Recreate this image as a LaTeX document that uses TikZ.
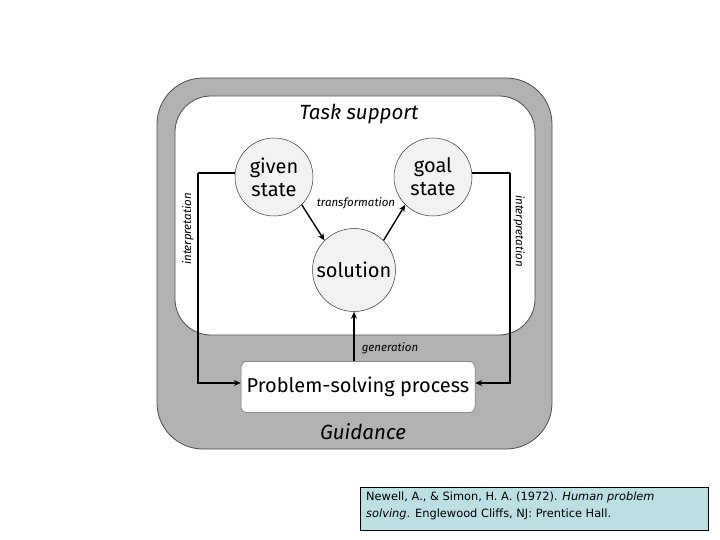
\documentclass[tikz,border=0pt]{standalone}
\usepackage{fontspec}
\setmainfont{DejaVu Sans}
\newfontfamily\comic{Fira Sans}
\usetikzlibrary{arrows.meta}
\definecolor{guidegray}{RGB}{178,178,178}
\definecolor{circfill}{RGB}{242,242,242}
\definecolor{citeblue}{RGB}{188,223,228}
\tikzset{
  conn/.style={line width=1.4pt,-{Stealth[length=7pt,width=6pt]}},
  plain/.style={line width=1.4pt},
  statecirc/.style={circle,draw=black!80,line width=0.5pt,fill=circfill,minimum size=78pt,inner sep=0pt,align=center,font=\comic\fontsize{20}{23}\selectfont},
  smalllab/.style={font=\comic\itshape\fontsize{11.5}{13}\selectfont,inner sep=0pt},
  biglab/.style={font=\comic\itshape\fontsize{20.5}{22}\selectfont,inner sep=0pt}
}
\begin{document}
\begin{tikzpicture}[x=1pt,y=-1pt]
\useasboundingbox (0,0) rectangle (720,540);
% outer guidance frame
\draw[fill=guidegray,draw=black!70,line width=0.8pt,rounded corners=46pt] (157,78) rectangle (552,449);
% inner task support
\draw[fill=white,draw=black!70,line width=0.8pt,rounded corners=36pt] (175,96) rectangle (535,335);
\node[biglab] (task) at (359,114) {Task support};
\node[biglab] (guid) at (363,432) {Guidance};
% circles
\node[statecirc] (given) at (274,177) {given\\state};
\node[statecirc] (goal) at (433,177) {goal\\state};
\node[statecirc,minimum size=83pt] (sol) at (354,270) {solution};
% process box
\node[draw=black!60,line width=0.5pt,fill=white,rounded corners=6pt,minimum width=234pt,minimum height=51pt,inner sep=0pt,font=\comic\fontsize{20}{23}\selectfont] (proc) at (358,387) {Problem-solving process};
% connectors
\draw[conn] (given.-45) -- (sol.135);
\draw[conn] (sol.45) -- (goal.-135);
\draw[conn] (proc.north -| sol.south) -- (sol.south);
\coordinate (lt) at (198,173);
\coordinate (lb) at (198,383);
\coordinate (rt) at (510,173);
\coordinate (rb) at (510,383);
\draw[plain] (given.west |- lt) -- (lt);
\draw[conn] (lt) -- (lb) -- (proc.west |- lb);
\draw[plain] (goal.east |- rt) -- (rt);
\draw[conn] (rt) -- (rb) -- (proc.east |- rb);
% labels
\node[smalllab] (tr) at (356,203) {transformation};
\node[smalllab] (gen) at (390,348) {generation};
\node[smalllab,rotate=90] (intl) at (188,229) {interpretation};
\node[smalllab,rotate=-90] (intr) at (519,231) {interpretation};
% citation
\node[draw=black,line width=0.8pt,fill=citeblue,minimum width=348pt,minimum height=43pt,inner sep=0pt] (citebox) at (534,508.5) {};
\node[anchor=north west,align=left,inner sep=0pt,font=\fontsize{11.4}{17}\selectfont] (cite) at (366,492) {Newell, A., \& Simon, H. A. (1972). \textit{Human problem}\\\textit{solving}. Englewood Cliffs, NJ: Prentice Hall.};
\end{tikzpicture}
\end{document}
